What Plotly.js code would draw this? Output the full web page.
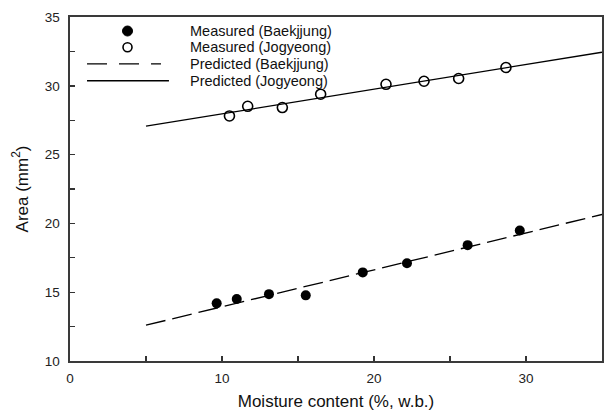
<!DOCTYPE html>
<html>
<head>
<meta charset="utf-8">
<script src="https://cdn.plot.ly/plotly-3.0.1.min.js"></script>
<style>html,body{margin:0;padding:0;background:#fff;}#chart{width:606px;height:414px;}</style>
</head>
<body>
<div id="chart"></div>
<script>
// Measured moisture content (%, w.b.) and area (mm^2)
var moistB = [9.65, 10.97, 13.09, 15.51, 19.26, 22.17, 26.16, 29.59];
var areaB  = [14.19, 14.50, 14.86, 14.77, 16.44, 17.10, 18.42, 19.49];
var moistJ = [10.49, 11.69, 13.97, 16.49, 20.79, 23.29, 25.57, 28.68];
var areaJ  = [27.81, 28.51, 28.42, 29.39, 30.11, 30.33, 30.53, 31.33];
// Predicted lines
var predX  = [5, 35];
var predB  = [12.6, 20.65];
var predJ  = [27.07, 32.44];
var legendLabels = ['Measured (Baekjjung)', 'Measured (Jogyeong)', 'Predicted (Baekjjung)', 'Predicted (Jogyeong)'];
var xTicks = [0, 10, 20, 30];
var yTicks = [10, 15, 20, 25, 30, 35];
var xMinor = [5, 15, 25];
var yMinor = [12.5, 17.5, 22.5, 27.5, 32.5];

var font = 'Liberation Sans, Arial, sans-serif';
var traces = [
  {x: predX, y: predB, mode: 'lines', line: {color: '#000', width: 1.3, dash: '20px,7px'}, showlegend: false},
  {x: predX, y: predJ, mode: 'lines', line: {color: '#000', width: 1.3}, showlegend: false},
  {x: moistB, y: areaB, mode: 'markers', marker: {symbol: 'circle', size: 10, color: '#000'}, showlegend: false},
  {x: moistJ, y: areaJ, mode: 'markers', marker: {symbol: 'circle-open', size: 10, color: '#000', line: {width: 1.6}}, showlegend: false},
  // invisible carrier so the minor-tick overlay axes are drawn
  {x: predX, y: predJ, xaxis: 'x2', yaxis: 'y2', mode: 'lines', opacity: 0, line: {width: 0.1}, showlegend: false, hoverinfo: 'skip'}
];

// custom legend geometry (paper coords)
var lgRows = [0.9593, 0.912, 0.864, 0.8147];
var lgSymX = 0.1081, lgTextX = 0.2218;
var shapes = [
  {type: 'circle', xref: 'paper', yref: 'paper', xsizemode: 'pixel', ysizemode: 'pixel', xanchor: lgSymX, yanchor: lgRows[0], x0: -5, x1: 5, y0: -5, y1: 5, fillcolor: '#000', line: {color: '#000', width: 1}},
  {type: 'circle', xref: 'paper', yref: 'paper', xsizemode: 'pixel', ysizemode: 'pixel', xanchor: lgSymX, yanchor: lgRows[1], x0: -4.5, x1: 4.5, y0: -4.5, y1: 4.5, fillcolor: 'rgba(0,0,0,0)', line: {color: '#000', width: 1.6}},
  {type: 'line', xref: 'paper', yref: 'paper', x0: 0.032, x1: 0.171, y0: lgRows[2], y1: lgRows[2], line: {color: '#000', width: 1.3, dash: '20px,12px'}},
  {type: 'line', xref: 'paper', yref: 'paper', x0: 0.032, x1: 0.186, y0: lgRows[3], y1: lgRows[3], line: {color: '#000', width: 1.3}}
];
var annotations = legendLabels.map(function (t, i) {
  return {text: t, xref: 'paper', yref: 'paper', x: lgTextX, y: lgRows[i], xanchor: 'left', yanchor: 'middle',
          showarrow: false, font: {family: font, size: 14.5, color: '#111'}};
});

var tickStyle = {ticks: 'inside', ticklen: 5, tickwidth: 1.4, tickcolor: '#333'};
var layout = {
  width: 606, height: 414,
  margin: {l: 70, r: 4, t: 17, b: 53},
  paper_bgcolor: '#fff', plot_bgcolor: '#fff',
  showlegend: false,
  xaxis: Object.assign({
    range: [0, 35], tickvals: xTicks, ticktext: xTicks.map(String),
    showline: true, linecolor: '#3a3a3a', linewidth: 1.6, mirror: true,
    showgrid: false, zeroline: false,
    tickfont: {family: font, size: 13.5, color: '#222'},
    ticklabelstandoff: 4,
    title: {text: 'Moisture content (%, w.b.)', font: {family: font, size: 17, color: '#111'}, standoff: 10}
  }, tickStyle),
  yaxis: Object.assign({
    range: [10, 35], tickvals: yTicks, ticktext: yTicks.map(String),
    showline: true, linecolor: '#3a3a3a', linewidth: 1.6, mirror: true,
    showgrid: false, zeroline: false,
    tickfont: {family: font, size: 13.5, color: '#222'},
    ticklabelstandoff: 6,
    title: {text: 'Area (mm<sup>2</sup>)', font: {family: font, size: 17, color: '#111'}, standoff: 12}
  }, tickStyle),
  xaxis2: Object.assign({
    overlaying: 'x', anchor: 'y', side: 'bottom', range: [0, 35], tickvals: xMinor,
    showticklabels: false, showline: false, showgrid: false, zeroline: false
  }, tickStyle),
  yaxis2: Object.assign({
    overlaying: 'y', anchor: 'x', side: 'left', range: [10, 35], tickvals: yMinor,
    showticklabels: false, showline: false, showgrid: false, zeroline: false
  }, tickStyle),
  shapes: shapes,
  annotations: annotations
};
Plotly.newPlot('chart', traces, layout, {displayModeBar: false, staticPlot: true});
</script>
</body>
</html>
